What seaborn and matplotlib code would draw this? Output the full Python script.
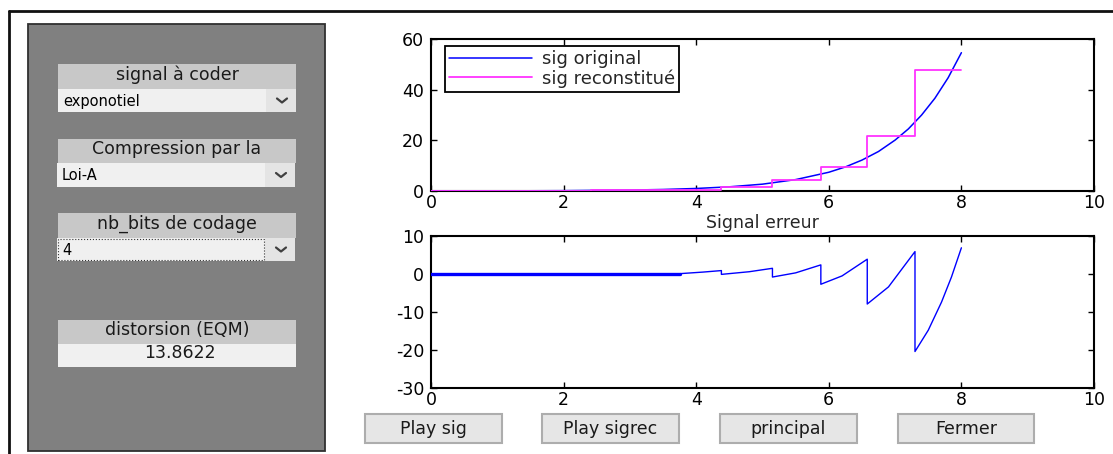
import matplotlib
matplotlib.use("Agg")
import matplotlib.pyplot as plt
from matplotlib.patches import Rectangle
from matplotlib.lines import Line2D
import seaborn as sns
import pandas as pd

# ---------------- data ----------------
t_orig = [0.0, 1.0, 2.0, 3.0, 3.5, 4.0, 4.5, 5.0, 5.5, 6.0, 6.25, 6.5,
          6.75, 7.0, 7.2, 7.4, 7.6, 7.8, 8.0]
sig_orig = [0.02, 0.05, 0.14, 0.37, 0.6, 1.0, 1.65, 2.7, 4.5, 7.4, 9.5, 12.2,
            15.6, 20.1, 24.5, 30.0, 36.6, 44.7, 54.6]

t_rec = [0.0, 2.42, 4.38, 5.15, 5.88, 6.58, 7.30, 8.0]
sig_rec = [0.0, 0.3, 1.5, 4.2, 9.6, 21.7, 47.8, 47.8]

t_err_flat = [0.0, 3.76]
err_flat = [0.0, 0.0]
t_err = [3.76, 4.1, 4.38, 4.38, 4.8, 5.15, 5.15, 5.5, 5.88, 5.88, 6.2, 6.58,
         6.58, 6.9, 7.30, 7.30, 7.5, 7.7, 7.85, 8.0]
err = [0.1, 0.5, 0.9, -0.1, 0.6, 1.5, -0.8, 0.3, 2.4, -2.7, -0.5, 3.9,
       -7.9, -3.4, 5.9, -20.4, -14.8, -7.4, -0.8, 6.9]

legend_labels = ["sig original", "sig reconstitué"]
x_ticks = [0, 2, 4, 6, 8, 10]
y_ticks_top = [0, 20, 40, 60]
y_ticks_bot = [-30, -20, -10, 0, 10]
err_title = "Signal erreur"

panel_labels = ["signal à coder", "Compression par la", "nb_bits de codage", "distorsion (EQM)"]
popup_values = ["exponotiel", "Loi-A", "4"]
distortion_value = "13.8622"
button_labels = ["Play sig", "Play sigrec", "principal", "Fermer"]

# ---------------- style ----------------
sns.set_style("ticks")
plt.rcParams["font.family"] = ["DejaVu Sans"]
plt.rcParams["axes.linewidth"] = 1.5
plt.rcParams["axes.unicode_minus"] = False

W, H = 1113, 454
fig = plt.figure(figsize=(W / 100, H / 100), dpi=100)
fig.patch.set_facecolor("white")


def fx(x):
    return x / W


def fy(y):
    return 1 - y / H


def rect(x0, y0, x1, y1, **kw):
    r = Rectangle((fx(x0), fy(y1)), (x1 - x0) / W, (y1 - y0) / H,
                  transform=fig.transFigure, **kw)
    fig.add_artist(r)
    return r


def ftext(x, y, s, **kw):
    fig.text(fx(x), fy(y), s, **kw)


def chevron(x, y):
    fig.add_artist(Line2D([fx(x - 5), fx(x), fx(x + 5)], [fy(y - 2), fy(y + 2), fy(y - 2)],
                          transform=fig.transFigure, color="#404040", lw=1.6))


# outer frame (top and left lines)
fig.add_artist(Line2D([fx(9), fx(W)], [fy(11), fy(11)], transform=fig.transFigure, color="#111111", lw=2))
fig.add_artist(Line2D([fx(9), fx(9)], [fy(11), fy(H)], transform=fig.transFigure, color="#111111", lw=2))

# left gray panel
rect(28, 24, 325, 451, facecolor="#808080", edgecolor="#303030", lw=1.3)

label_boxes = [(58, 64, 296, 89), (58, 139, 296, 163), (58, 213, 296, 238), (58, 320, 296, 344)]
for (x0, y0, x1, y1), lab in zip(label_boxes, panel_labels):
    rect(x0, y0, x1, y1, facecolor="#c8c8c8", edgecolor="none")
    ftext((x0 + x1) / 2, (y0 + y1) / 2 - 2, lab, ha="center", va="center", fontsize=12.5, color="#1a1a1a")

popup_boxes = [(58, 89, 296, 112), (57, 163, 295, 187), (57, 238, 295, 261)]
for i, ((x0, y0, x1, y1), val) in enumerate(zip(popup_boxes, popup_values)):
    rect(x0, y0, x1, y1, facecolor="#f0f0f0", edgecolor="none")
    rect(x1 - 30, y0, x1, y1, facecolor="#e4e4e4", edgecolor="none")
    ftext(x0 + 5, (y0 + y1) / 2 + 1, val, ha="left", va="center", fontsize=10.5, color="black")
    chevron(x1 - 14, (y0 + y1) / 2)
    if i == 2:
        rect(x0 + 1, y0 + 1, x1 - 31, y1 - 1, facecolor="none", edgecolor="#333333", lw=0.8, linestyle=":")

rect(58, 344, 296, 367, facecolor="#f0f0f0", edgecolor="none")
ftext(180, 353, distortion_value, ha="center", va="center", fontsize=12.5, color="#1a1a1a")

# buttons
button_boxes = [(365, 414, 502, 443), (542, 414, 679, 443), (720, 414, 857, 443), (898, 414, 1034, 443)]
for (x0, y0, x1, y1), lab in zip(button_boxes, button_labels):
    rect(x0, y0, x1, y1, facecolor="#e6e6e6", edgecolor="#adadad", lw=1.5)
    ftext((x0 + x1) / 2, (y0 + y1) / 2, lab, ha="center", va="center", fontsize=12.5, color="#1a1a1a")

# ---------------- axes ----------------
ax1 = fig.add_axes([fx(431), fy(191), 663 / W, 152 / H])
ax2 = fig.add_axes([fx(431), fy(388), 663 / W, 152 / H])

df_orig = pd.DataFrame({"t": t_orig, "v": sig_orig})
df_rec = pd.DataFrame({"t": t_rec, "v": sig_rec})
sns.lineplot(data=df_orig, x="t", y="v", ax=ax1, color="#0000ff", lw=1.1,
             label=legend_labels[0], estimator=None, sort=False, zorder=3)
sns.lineplot(data=df_rec, x="t", y="v", ax=ax1, color="#ff33ff", lw=1.3,
             label=legend_labels[1], estimator=None, sort=False, drawstyle="steps-post", zorder=3)

df_flat = pd.DataFrame({"t": t_err_flat, "v": err_flat})
df_err = pd.DataFrame({"t": t_err, "v": err})
sns.lineplot(data=df_flat, x="t", y="v", ax=ax2, color="#0000ff", lw=2.4,
             estimator=None, sort=False, zorder=3)
sns.lineplot(data=df_err, x="t", y="v", ax=ax2, color="#0000ff", lw=1.0,
             estimator=None, sort=False, zorder=3)

for ax, yt in ((ax1, y_ticks_top), (ax2, y_ticks_bot)):
    ax.set_xlim(x_ticks[0], x_ticks[-1])
    ax.set_ylim(yt[0], yt[-1])
    ax.set_xticks(x_ticks)
    ax.set_yticks(yt)
    ax.set_xlabel("")
    ax.set_ylabel("")
    ax.tick_params(direction="in", length=4, width=1, top=True, right=True,
                   labelsize=12.5, colors="black", pad=5)
    ax.tick_params(axis="x", pad=2)
    for s in ax.spines.values():
        s.set_visible(True)
        s.set_color("black")
        s.set_linewidth(1.5)
    ax.set_facecolor("white")

ax2.set_title(err_title, fontsize=12.5, pad=6)

leg = ax1.legend(loc="upper left", bbox_to_anchor=(0.021, 0.955), borderaxespad=0,
                 fontsize=13, frameon=True, fancybox=False, framealpha=1,
                 edgecolor="black", handlelength=4.6, handletextpad=0.5,
                 borderpad=0.25, labelspacing=0.05)
leg.get_frame().set_linewidth(1.3)
leg.get_frame().set_facecolor("white")

fig.savefig("out.png", dpi=100)
